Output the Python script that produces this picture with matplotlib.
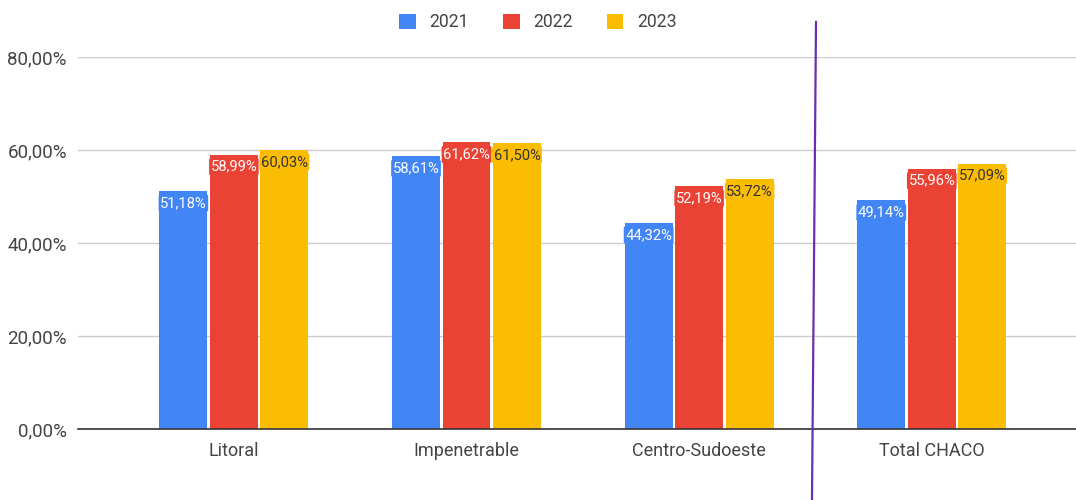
import matplotlib
matplotlib.use('Agg')
import matplotlib.pyplot as plt
from matplotlib.lines import Line2D
import numpy as np

# ── Data ───────────────────────────────────────────────────────────────
regions = ["Litoral", "Impenetrable", "Centro-Sudoeste", "Total CHACO"]
years = ["2021", "2022", "2023"]
v2021 = [51.18, 58.61, 44.32, 49.14]
v2022 = [58.99, 61.62, 52.19, 55.96]
v2023 = [60.03, 61.50, 53.72, 57.09]
yticks = [0, 20, 40, 60, 80]

colors = ['#4285F4', '#EA4335', '#FBBC04']
label_colors = ['white', 'white', '#333333']

plt.rcParams['font.family'] = ['Roboto', 'DejaVu Sans']

fig = plt.figure(figsize=(10.76, 5), dpi=100)
ax = fig.add_axes([0.0725, 0.142, 0.9275, 0.744])

x = np.arange(len(regions))
width = 0.206
step = 0.217
for i, (yr, vals) in enumerate(zip(years, [v2021, v2022, v2023])):
    pos = x + (i - 1) * step
    ax.bar(pos, vals, width, color=colors[i], label=yr, zorder=3)
    for px, v in zip(pos, vals):
        ax.annotate(f"{v:.2f}%".replace('.', ','), xy=(px, v), xytext=(0, -12),
                    textcoords='offset pixels', ha='center', va='center',
                    fontsize=10.6, color=label_colors[i], zorder=4,
                    bbox=dict(boxstyle='round,pad=0.1', fc=colors[i], ec='none'))

ax.set_xlim(-0.67, 3.62)
ax.set_ylim(0, 80)
ax.set_yticks(yticks)
ax.set_yticklabels([f"{t:.2f}%".replace('.', ',') for t in yticks])
ax.set_xticks(x)
ax.set_xticklabels(regions)
ax.tick_params(axis='both', length=0, labelcolor='#444444')
ax.tick_params(axis='x', pad=9, labelsize=13)
ax.tick_params(axis='y', pad=8, labelsize=13.5)
ax.grid(axis='y', color='#cccccc', linewidth=1, zorder=0)
for s in ['top', 'right', 'left']:
    ax.spines[s].set_visible(False)
ax.spines['bottom'].set_color('#333333')
ax.spines['bottom'].set_linewidth(1.2)
ax.spines['bottom'].set_zorder(5)
ax.set_axisbelow(True)

leg = fig.legend(loc='upper center', bbox_to_anchor=(0.5, 1.005), ncol=3, frameon=False,
                 fontsize=12.7, handlelength=0.95, handleheight=0.95, columnspacing=1.9,
                 handletextpad=0.8)
for t in leg.get_texts():
    t.set_color('#444444')

# purple divider line drawn over the chart
fig.add_artist(Line2D([816 / 1076, 812 / 1076], [1 - 22 / 500, 0.0],
                      transform=fig.transFigure, color='#6a2fb0', linewidth=1.6))

plt.savefig('out.png', dpi=100)
